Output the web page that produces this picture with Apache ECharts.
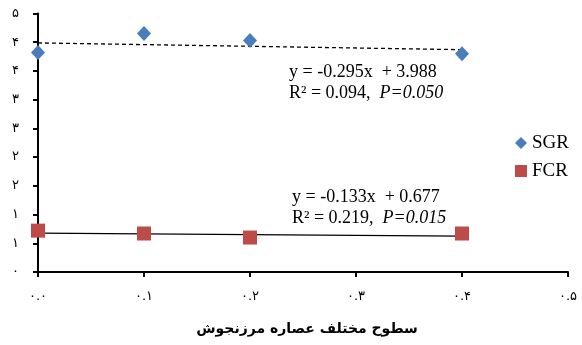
<!DOCTYPE html>
<html>
<head>
<meta charset="utf-8">
<script src="https://cdn.jsdelivr.net/npm/echarts@6/dist/echarts.min.js"></script>
<style>
html,body{margin:0;padding:0;background:#fff;}
#c{width:582px;height:345px;}
</style>
</head>
<body>
<div id="c"></div>
<script>
var xLevels = [0, 0.1, 0.2, 0.4];
var sgrValues = [3.82, 4.15, 4.03, 3.80];
var fcrValues = [0.72, 0.67, 0.60, 0.67];
var sgrTrendX = [0, 0.4];
var sgrTrendY = [3.988, 3.870];
var fcrTrendX = [0, 0.4];
var fcrTrendY = [0.677, 0.624];
var xTickLabels = {'0': '۰.۰', '0.1': '۰.۱', '0.2': '۰.۲', '0.3': '۰.۳', '0.4': '۰.۴', '0.5': '۰.۵'};
var yTickLabels = ['۰', '۱', '۱', '۲', '۲', '۳', '۳', '۴', '۴', '۵'];
var xTitle = 'سطوح مختلف عصاره مرزنجوش';

function pairs(xs, ys) { return xs.map(function (x, i) { return [x, ys[i]]; }); }

var chart = echarts.init(document.getElementById('c'));
var annFont = '18px "Liberation Serif"';
var annItal = 'italic 18px "Liberation Serif"';
chart.setOption({
  animation: false,
  backgroundColor: '#fff',
  grid: { left: 38, right: 14, top: 13.5, bottom: 73, containLabel: false },
  xAxis: {
    type: 'value', min: 0, max: 0.5, interval: 0.1,
    axisLine: { show: true, onZero: false, lineStyle: { color: '#000', width: 2 } },
    axisTick: { show: true, length: 5, lineStyle: { color: '#000', width: 2 } },
    splitLine: { show: false },
    axisLabel: {
      margin: 18, color: '#000', fontSize: 13, fontFamily: 'DejaVu Sans',
      formatter: function (v) { return xTickLabels[String(Math.round(v * 10) / 10)] || ''; }
    },
    name: xTitle, nameLocation: 'middle', nameGap: 50,
    nameTextStyle: { color: '#000', fontSize: 14, fontWeight: 'bold', fontFamily: 'DejaVu Sans', padding: [0, 0, 0, 8] }
  },
  yAxis: {
    type: 'value', min: 0, max: 4.5, interval: 0.5,
    axisLine: { show: true, lineStyle: { color: '#000', width: 2 } },
    axisTick: { show: true, length: 5, lineStyle: { color: '#000', width: 2 } },
    splitLine: { show: false },
    axisLabel: {
      margin: 19, color: '#000', fontSize: 13, fontFamily: 'DejaVu Sans',
      formatter: function (v) { return yTickLabels[Math.round(v * 2)]; }
    }
  },
  legend: {
    orient: 'vertical', left: 510, top: 128, itemGap: 8,
    itemWidth: 12, itemHeight: 12,
    textStyle: { color: '#000', fontSize: 19, lineHeight: 20, fontFamily: 'Liberation Serif' },
    data: [{ name: 'SGR', icon: 'diamond' }, { name: 'FCR', icon: 'rect' }]
  },
  series: [
    {
      name: 'SGR trend', type: 'line', data: pairs(sgrTrendX, sgrTrendY),
      symbol: 'none', lineStyle: { color: '#000', width: 1.3, type: [4, 3] }, z: 1
    },
    {
      name: 'FCR trend', type: 'line', data: pairs(fcrTrendX, fcrTrendY),
      symbol: 'none', lineStyle: { color: '#000', width: 1.3 }, z: 1
    },
    {
      name: 'SGR', type: 'scatter', data: pairs(xLevels, sgrValues),
      symbol: 'diamond', symbolSize: [14, 15], itemStyle: { color: '#4A7EBB', opacity: 1 }, z: 3
    },
    {
      name: 'FCR', type: 'scatter', data: pairs(xLevels, fcrValues),
      symbol: 'rect', symbolSize: [14, 14], itemStyle: { color: '#BE4B48', opacity: 1 }, z: 3
    }
  ],
  graphic: [
    {
      type: 'text', left: 289, top: 62,
      style: {
        text: 'y = -0.295x  + 3.988\n{n|R² = 0.094,  }{i|P=0.050}',
        fill: '#000', font: annFont, lineHeight: 21,
        rich: { n: { font: annFont, fill: '#000', lineHeight: 21 }, i: { font: annItal, fill: '#000', lineHeight: 21 } }
      }
    },
    {
      type: 'text', left: 292, top: 187,
      style: {
        text: 'y = -0.133x  + 0.677\n{n|R² = 0.219,  }{i|P=0.015}',
        fill: '#000', font: annFont, lineHeight: 21,
        rich: { n: { font: annFont, fill: '#000', lineHeight: 21 }, i: { font: annItal, fill: '#000', lineHeight: 21 } }
      }
    }
  ]
});
</script>
</body>
</html>
